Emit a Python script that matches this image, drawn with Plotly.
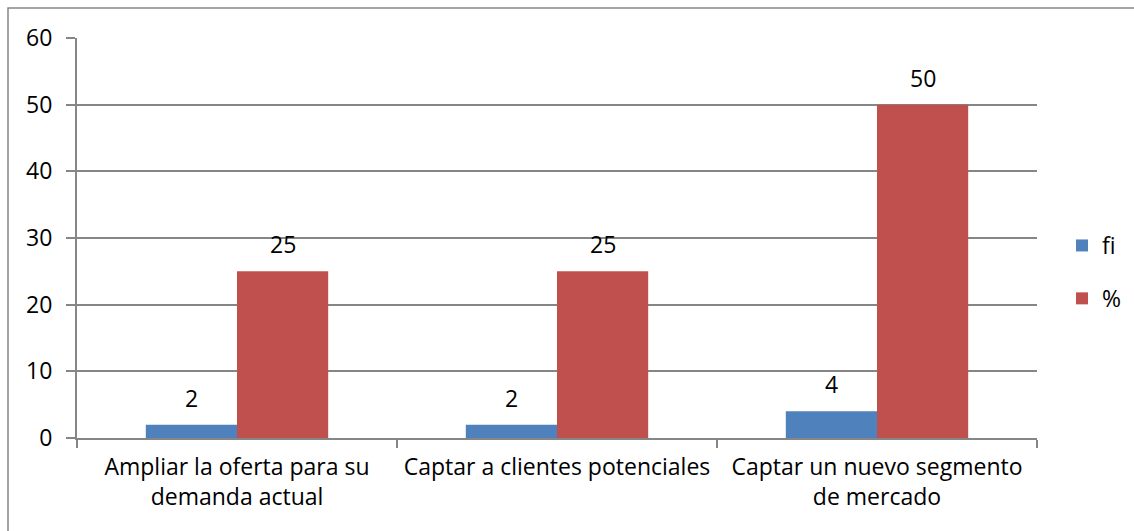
import plotly.graph_objects as go

categories = [
    "Ampliar la oferta para su<br>demanda actual",
    "Captar a clientes potenciales",
    "Captar un nuevo segmento<br>de mercado",
]
fi_values = [2, 2, 4]
pct_values = [25, 25, 50]

W, H = 1134, 531
L, R, T, B = 77, 97, 38, 93
pw, ph = W - L - R, H - T - B


def px_x(p):
    return (p - L) / pw


def px_y(p):
    return (H - B - p) / ph


font = dict(family="'Open Sans', Lato, sans-serif", size=23, color="black")

fig = go.Figure()
fig.add_trace(go.Bar(
    x=categories, y=fi_values, name="fi",
    marker=dict(color="#4F81BD", line=dict(width=0)),
    legendgroup="a",
))
fig.add_trace(go.Bar(
    x=categories, y=pct_values, name="%",
    marker=dict(color="#C0504D", line=dict(width=0)),
    legendgroup="b",
))

# value labels above the bars
for vals, shift in [(fi_values, -45.5), (pct_values, 45.5)]:
    for cat, v in zip(categories, vals):
        fig.add_annotation(
            x=cat, y=v, text=str(v), showarrow=False,
            xshift=shift, yshift=9, yanchor="bottom", font=font,
        )

fig.add_shape(
    type="rect", xref="paper", yref="paper",
    x0=px_x(8), x1=px_x(1145), y0=px_y(545), y1=px_y(8),
    line=dict(color="#868686", width=1.5), layer="below",
)

fig.update_layout(
    width=W, height=H,
    margin=dict(l=L, r=R, t=T, b=B, autoexpand=False),
    paper_bgcolor="white", plot_bgcolor="white",
    font=font,
    barmode="group", bargap=0.43, bargroupgap=0,
    showlegend=True,
    legend=dict(
        x=px_x(1062), y=px_y(224), xanchor="left", yanchor="top",
        font=dict(size=23), tracegroupgap=20, itemwidth=30,
        bgcolor="rgba(0,0,0,0)",
    ),
)
fig.update_xaxes(
    showline=True, linecolor="#868686", linewidth=2,
    ticks="outside", tickson="boundaries", ticklen=8, tickcolor="#868686",
    tickwidth=2, showgrid=False, tickfont=font, automargin=False,
    ticklabelstandoff=7,
)
fig.update_yaxes(
    range=[0, 60], dtick=10,
    showline=True, linecolor="#868686", linewidth=2,
    ticks="outside", ticklen=9, tickcolor="#868686", tickwidth=2,
    showgrid=True, gridcolor="#868686", gridwidth=2,
    zeroline=False, tickfont=font, ticklabelstandoff=9, automargin=False,
)

fig.write_html(
    "out.html",
    config={"displayModeBar": False},
    post_script="document.body.style.margin='0';",
)
